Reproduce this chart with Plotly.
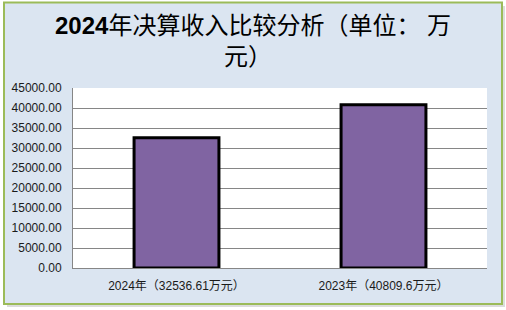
import plotly.graph_objects as go

categories = ["2024年（32536.61万元）", "2023年（40809.6万元）"]
values = [32536.61, 40809.6]
title_lines = ["<b>2024</b>年决算收入比较分析（单位： 万", "元）"]

W, H = 506, 310
ML, MR, MT, MB = 73, 19, 88, 42
PW, PH = W - ML - MR, H - MT - MB
FONT = "Liberation Sans, Noto Sans CJK SC, sans-serif"

fig = go.Figure()
fig.add_trace(go.Bar(
    x=categories, y=values,
    marker=dict(color="#8064a2", line=dict(color="#000000", width=3)),
    width=0.41,
))

def px_x(v):
    return (v - ML) / PW

def px_y(v):
    return (H - MB - v) / PH

def rect(x0, x1, y0, y1, fill, line=None):
    return dict(type="rect", xref="paper", yref="paper", layer="above",
                x0=px_x(x0), x1=px_x(x1), y0=px_y(y1), y1=px_y(y0),
                fillcolor=fill, line=line or dict(width=0))

shapes = [
    # white outside strips
    rect(0, 4, 0, H, "#ffffff"),
    rect(502, W, 0, H, "#ffffff"),
    rect(0, W, 0, 2.5, "#ffffff"),
    rect(0, W, 304, H, "#ffffff"),
    # shadow
    rect(502, 505, 6, 307, "#dcdcdc"),
    rect(7, 505, 304, 307, "#dcdcdc"),
    # green frame
    rect(4, 502, 2.5, 304, "rgba(0,0,0,0)", dict(color="#9bbb59", width=2)),
]

annotations = [
    dict(text=title_lines[0], xref="paper", yref="paper", x=px_x(253), y=px_y(26),
         xanchor="center", yanchor="middle", showarrow=False,
         font=dict(family=FONT, size=24, color="#000000")),
    dict(text=title_lines[1], xref="paper", yref="paper", x=px_x(248), y=px_y(57),
         xanchor="center", yanchor="middle", showarrow=False,
         font=dict(family=FONT, size=24, color="#000000")),
]

fig.update_layout(
    width=W, height=H,
    margin=dict(l=ML, r=MR, t=MT, b=MB),
    paper_bgcolor="#dbe5f1",
    plot_bgcolor="#ffffff",
    showlegend=False,
    shapes=shapes,
    annotations=annotations,
    bargap=0.59,
    font=dict(family=FONT, size=12, color="#1a1a1a"),
    xaxis=dict(
        showline=True, linecolor="#868686", linewidth=1,
        showgrid=False, ticks="", ticklabelstandoff=7,
        tickfont=dict(family=FONT, size=12, color="#1a1a1a"),
    ),
    yaxis=dict(
        range=[0, 45000], dtick=5000, tick0=0, tickformat=".2f",
        showgrid=True, gridcolor="#868686", gridwidth=1,
        showline=True, linecolor="#868686", linewidth=1,
        zeroline=False, ticks="", ticklabelstandoff=8,
        tickfont=dict(family=FONT, size=12, color="#1a1a1a"),
    ),
)

fig.write_html("out.html")
